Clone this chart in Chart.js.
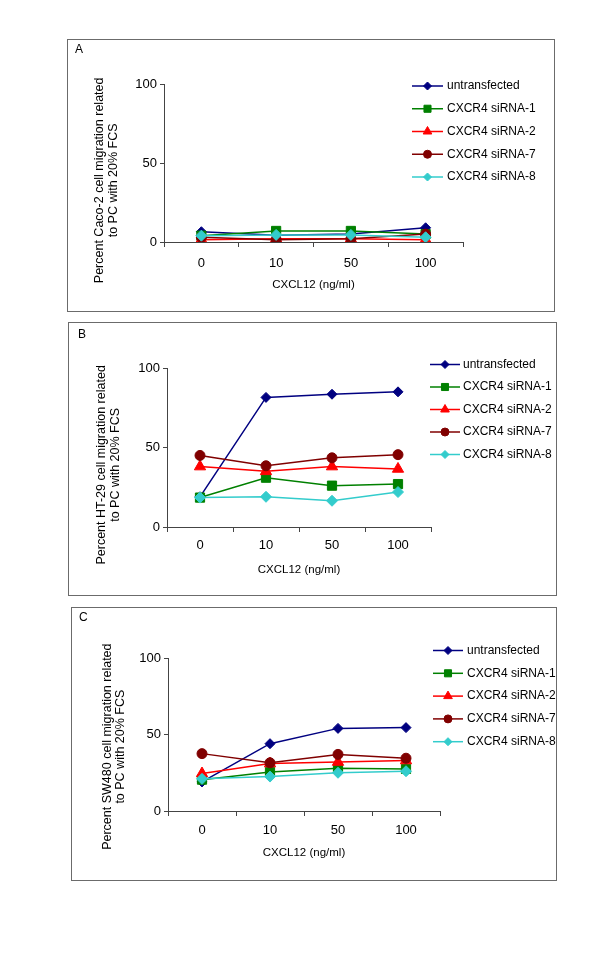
<!DOCTYPE html>
<html><head><meta charset="utf-8">
<script src="https://cdn.jsdelivr.net/npm/chart.js@4.4.1/dist/chart.umd.min.js"></script>
<style>
html,body{margin:0;padding:0;background:#fff;}
body{width:600px;height:972px;position:relative;overflow:hidden;font-family:'Liberation Sans',Arial,sans-serif;}
.box{position:absolute;border:1px solid #6b6b6b;box-sizing:border-box;pointer-events:none;}
.lbl{position:absolute;font-size:12px;line-height:14px;color:#000;font-family:'Liberation Sans',Arial,sans-serif;}
canvas{position:absolute;left:0;}
</style></head><body>
<canvas id="cA"></canvas>
<canvas id="cB"></canvas>
<canvas id="cC"></canvas>
<div class="box" style="left:67px;top:39px;width:488px;height:273px;"></div>
<div class="box" style="left:68px;top:322px;width:489px;height:274px;"></div>
<div class="box" style="left:71px;top:607px;width:486px;height:274px;"></div>
<div class="lbl" style="left:75px;top:42px;">A</div>
<div class="lbl" style="left:78px;top:327px;">B</div>
<div class="lbl" style="left:79px;top:610px;">C</div>
<script>
// ---- data ----
const categories = ['0', '10', '50', '100'];
const seriesNames = ['untransfected', 'CXCR4 siRNA-1', 'CXCR4 siRNA-2', 'CXCR4 siRNA-7', 'CXCR4 siRNA-8'];
const yTickValues = [0, 50, 100];
const xAxisTitle = 'CXCL12 (ng/ml)';

// Panel A: Caco-2
const cacoUntransfected = [6.5, 4.2, 5, 9];
const cacoSi1 = [4, 7, 7, 5];
const cacoSi2 = [1.5, 2, 2, 1.5];
const cacoSi7 = [3, 1.5, 2, 5];
const cacoSi8 = [4, 4.5, 4.5, 3];

// Panel B: HT-29
const htUntransfected = [19, 81.5, 83.5, 85];
const htSi1 = [18.5, 31, 26, 27];
const htSi2 = [38, 35, 38, 36.5];
const htSi7 = [45, 38.5, 43.5, 45.5];
const htSi8 = [18.5, 19, 16.5, 22];

// Panel C: SW480
const swUntransfected = [19, 44, 54, 54.5];
const swSi1 = [20.5, 25.5, 28, 27.5];
const swSi2 = [24.5, 31, 32, 33];
const swSi7 = [37.5, 31.5, 37, 34.5];
const swSi8 = [21, 22.5, 25, 26];

// ---- styles ----
const FONT = "'Liberation Sans', Arial, sans-serif";
const AXIS = '#444444';
const seriesStyle = [
  {color: '#000080', point: 'rectRot', r: 5, lr: 4},
  {color: '#008000', point: 'rect', r: 6.5, lr: 5},
  {color: '#FF0000', point: 'triangle', r: 6.5, lr: 5},
  {color: '#800000', point: 'circle', r: 5, lr: 4},
  {color: '#33CCCC', point: 'rectRot', r: 5.5, lr: 4}
];

const sideLegend = {
  id: 'sideLegend',
  afterDraw(chart, args, o) {
    const ctx = chart.ctx;
    ctx.save();
    chart.data.datasets.forEach((ds, i) => {
      const y = o.y0 + i * o.dy;
      ctx.strokeStyle = ds.borderColor;
      ctx.lineWidth = ds.borderWidth;
      ctx.beginPath(); ctx.moveTo(o.x0, y); ctx.lineTo(o.x1, y); ctx.stroke();
      ctx.fillStyle = ds.pointBackgroundColor;
      ctx.strokeStyle = ds.pointBorderColor;
      ctx.lineWidth = 1;
      Chart.helpers.drawPoint(ctx, {pointStyle: ds.pointStyle, radius: ds.legendRadius, rotation: 0, borderWidth: 1}, (o.x0 + o.x1) / 2, y);
      ctx.fillStyle = '#000';
      ctx.font = o.fontSize + 'px ' + FONT;
      ctx.textAlign = 'left';
      ctx.textBaseline = 'middle';
      ctx.fillText(ds.label, o.tx, y);
    });
    ctx.restore();
  }
};

function makePanel(id, p, values, yTitle) {
  const cv = document.getElementById(id);
  const top = p.box.y0, h = p.box.y1 - p.box.y0 + 1;
  cv.width = 600; cv.height = h; cv.style.top = top + 'px';
  cv.style.width = '600px'; cv.style.height = h + 'px';
  const yLh = 13.5, xTitleSize = 11.5, xTitleLh = xTitleSize * 1.2, tickSize = 13, tickLh = tickSize * 1.2, tickLen = 5;
  const padLeft = p.yTitleX - yLh / 2;
  const axisBottom = p.xTitleY + xTitleLh / 2;
  const datasets = values.map((v, i) => ({
    label: seriesNames[i],
    data: v,
    borderColor: seriesStyle[i].color,
    backgroundColor: seriesStyle[i].color,
    pointBackgroundColor: seriesStyle[i].color,
    pointBorderColor: seriesStyle[i].color,
    pointBorderWidth: 1,
    pointStyle: seriesStyle[i].point,
    pointRadius: seriesStyle[i].r,
    legendRadius: seriesStyle[i].lr,
    borderWidth: 1.5,
    tension: 0,
    fill: false,
    order: values.length - i
  }));
  return new Chart(cv, {
    type: 'line',
    data: {labels: categories, datasets},
    plugins: [sideLegend],
    options: {
      responsive: false, animation: false, devicePixelRatio: 1,
      layout: {padding: {left: padLeft, right: 600 - p.area.right, top: p.area.top - top, bottom: top + h - axisBottom}},
      plugins: {
        legend: {display: false}, tooltip: {enabled: false},
        sideLegend: {x0: p.leg.x0, x1: p.leg.x1, tx: p.leg.tx, y0: p.leg.y0 - top, dy: p.leg.dy, fontSize: 12}
      },
      scales: {
        x: {
          type: 'category', offset: true,
          grid: {display: true, offset: true, drawOnChartArea: false, drawTicks: true, tickLength: tickLen, color: AXIS},
          border: {display: true, color: AXIS, width: 1},
          ticks: {color: '#000', font: {family: FONT, size: tickSize}, padding: p.xLabelY - p.area.bottom - tickLen - tickLh / 2, maxRotation: 0, autoSkip: false},
          title: {display: true, text: xAxisTitle, color: '#000', font: {family: FONT, size: xTitleSize, lineHeight: 1.2}, padding: 0},
          afterFit(s) { s.height = axisBottom - p.area.bottom; }
        },
        y: {
          min: 0, max: 100,
          afterBuildTicks(s) { s.ticks = yTickValues.map(v => ({value: v})); },
          grid: {drawOnChartArea: false, drawTicks: true, tickLength: 4, color: AXIS},
          border: {display: true, color: AXIS, width: 1},
          ticks: {color: '#000', font: {family: FONT, size: tickSize}, padding: 3},
          title: {display: true, text: yTitle, color: '#000', font: {family: FONT, size: 12.5, lineHeight: yLh / 12.5}, padding: 0},
          afterFit(s) { s.width = p.area.left - padLeft; }
        }
      }
    }
  });
}

makePanel('cA', {
  box: {y0: 39, y1: 311}, area: {left: 164, right: 463, top: 84, bottom: 242},
  yTitleX: 100, xLabelY: 263, xTitleY: 285,
  leg: {x0: 412, x1: 443, tx: 447, y0: 86, dy: 22.75}
}, [cacoUntransfected, cacoSi1, cacoSi2, cacoSi7, cacoSi8],
['Percent Caco-2 cell migration related          ', 'to PC with 20% FCS          ']);

makePanel('cB', {
  box: {y0: 322, y1: 595}, area: {left: 167, right: 431, top: 368, bottom: 527},
  yTitleX: 101.7, xLabelY: 545, xTitleY: 570,
  leg: {x0: 430, x1: 460, tx: 463, y0: 364.5, dy: 22.5}
}, [htUntransfected, htSi1, htSi2, htSi7, htSi8],
['Percent HT-29 cell migration related          ', 'to PC with 20% FCS          ']);

makePanel('cC', {
  box: {y0: 607, y1: 880}, area: {left: 168, right: 440, top: 658, bottom: 811},
  yTitleX: 107.5, xLabelY: 830, xTitleY: 853,
  leg: {x0: 433, x1: 463, tx: 467, y0: 650.5, dy: 22.8}
}, [swUntransfected, swSi1, swSi2, swSi7, swSi8],
['Percent SW480 cell migration related       ', 'to PC with 20% FCS       ']);
</script>
</body></html>
